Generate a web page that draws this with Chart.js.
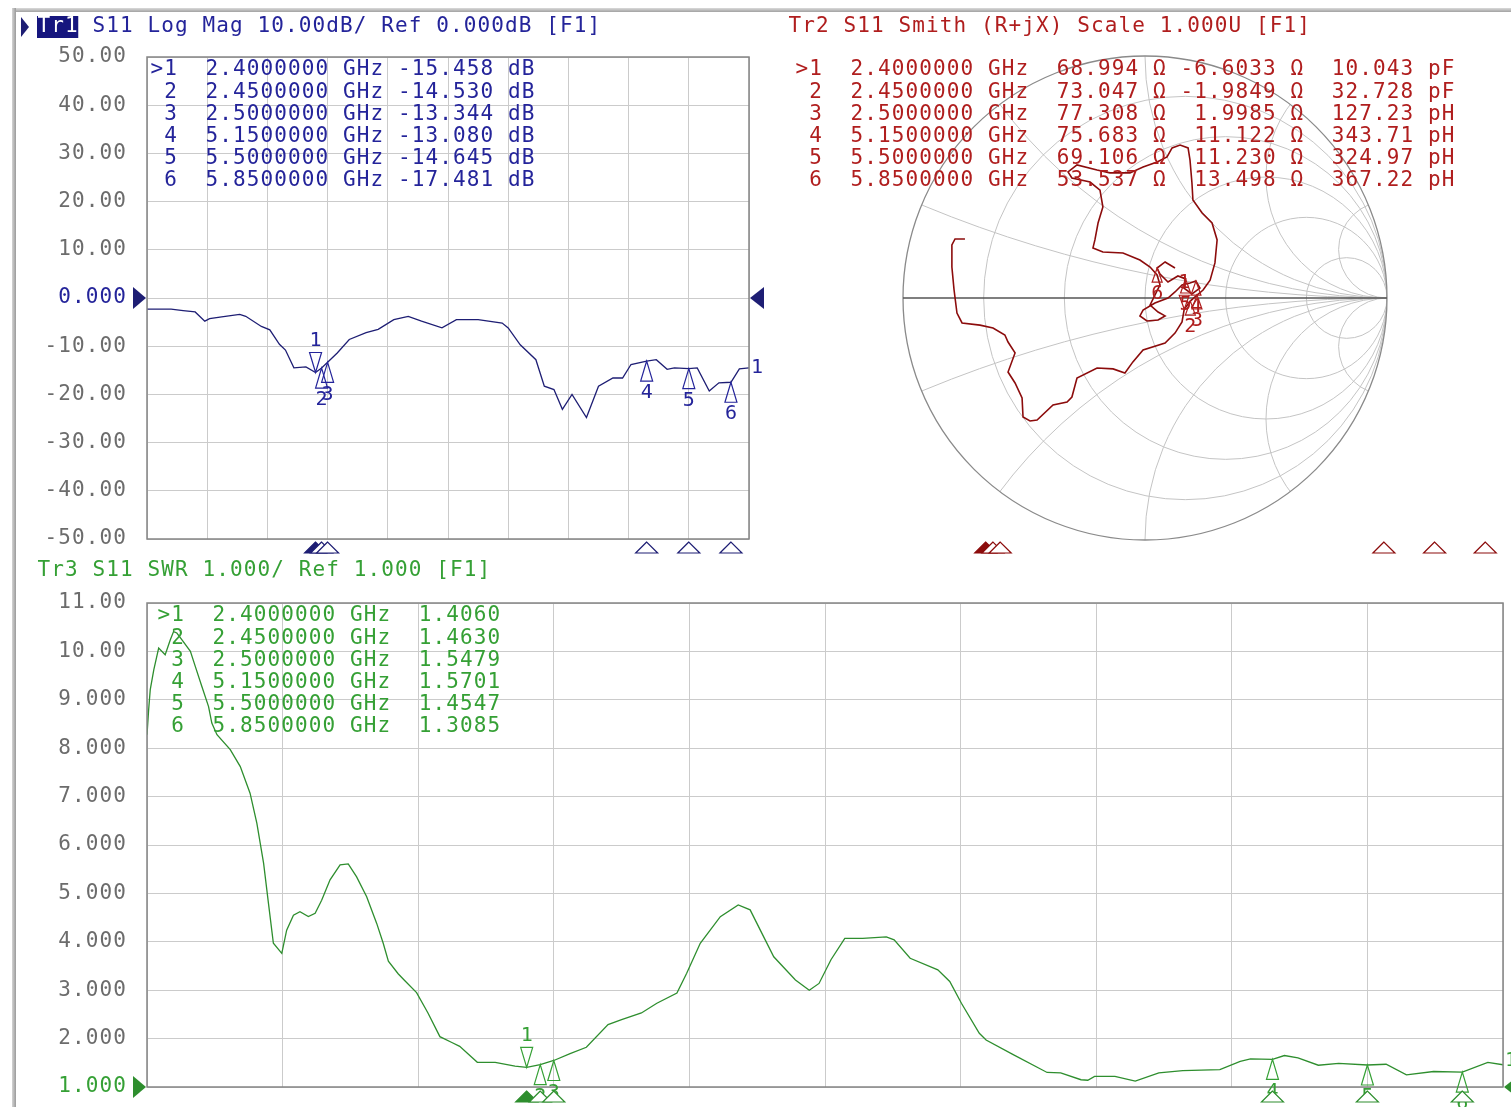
<!DOCTYPE html>
<html>
<head>
<meta charset="utf-8">
<title>S11</title>
<script src="https://cdn.jsdelivr.net/npm/chart.js@4.4.1/dist/chart.umd.min.js"></script>
<style>
  html, body { margin: 0; padding: 0; background: #fff; }
  body { width: 1511px; height: 1107px; position: relative; overflow: hidden; }
  .frame-top { position: absolute; left: 12px; right: 0; top: 8px; height: 4px; background: linear-gradient(#dadada, #a2a2a2); }
  .frame-left { position: absolute; left: 12px; top: 8px; bottom: 0; width: 4px; background: linear-gradient(90deg, #d4d4d4, #9a9a9a); }
  canvas { position: absolute; }
  #magChart { left: 0; top: 0; }
  #smithChart { left: 783px; top: 0; }
  #swrChart { left: 0; top: 555px; }
</style>
</head>
<body>
<div class="frame-top"></div>
<div class="frame-left"></div>
<canvas id="magChart" width="780" height="560"></canvas>
<canvas id="smithChart" width="724" height="560"></canvas>
<canvas id="swrChart" width="1511" height="552"></canvas>
<script>
// ---- data ----
const magTickLabels = ['50.00', '40.00', '30.00', '20.00', '10.00', '0.000', '-10.00', '-20.00', '-30.00', '-40.00', '-50.00'];
const swrTickLabels = ['11.00', '10.00', '9.000', '8.000', '7.000', '6.000', '5.000', '4.000', '3.000', '2.000', '1.000'];

// Tr1 log mag (GHz, dB)
const magFreq = [1.0, 1.2, 1.3, 1.4, 1.48, 1.52, 1.62, 1.77, 1.82, 1.95, 2.02, 2.1, 2.15, 2.22, 2.32, 2.4, 2.45, 2.5,
  2.58, 2.68, 2.82, 2.92, 3.05, 3.17, 3.28, 3.45, 3.57, 3.75, 3.95, 4.0, 4.1, 4.23, 4.3, 4.38, 4.45, 4.53, 4.65,
  4.75, 4.87, 4.95, 5.02, 5.15, 5.23, 5.32, 5.38, 5.5, 5.57, 5.67, 5.75, 5.85, 5.92, 6.0];
const magDb = [-2.3, -2.3, -2.6, -2.9, -4.8, -4.3, -3.9, -3.4, -3.8, -5.9, -6.6, -9.6, -10.8, -14.5, -14.3, -15.46, -14.53, -13.34,
  -11.4, -8.6, -7.2, -6.5, -4.5, -3.8, -4.8, -6.2, -4.5, -4.5, -5.2, -6.2, -9.7, -12.8, -18.3, -19.0, -23.1, -20.0, -24.8,
  -18.3, -16.6, -16.6, -13.8, -13.08, -12.8, -14.8, -14.5, -14.65, -14.5, -19.3, -17.6, -17.48, -14.7, -14.5];

// Tr3 SWR (GHz, ratio)
const swrFreq = [1.0, 1.006, 1.012, 1.025, 1.043, 1.067, 1.086, 1.098, 1.11, 1.129, 1.16, 1.178, 1.202, 1.227, 1.239, 1.258,
  1.307, 1.344, 1.38, 1.405, 1.43, 1.448, 1.466, 1.497, 1.515, 1.54, 1.564, 1.595, 1.62, 1.644, 1.675, 1.712, 1.742, 1.773,
  1.81, 1.847, 1.871, 1.89, 1.926, 1.95, 1.994, 2.036, 2.08, 2.124, 2.153, 2.218, 2.284, 2.357, 2.4, 2.45, 2.5, 2.56, 2.62,
  2.7, 2.75, 2.823, 2.88, 2.954, 2.99, 3.04, 3.114, 3.18, 3.224, 3.267, 3.311, 3.391, 3.442, 3.478, 3.522, 3.573, 3.639,
  3.726, 3.755, 3.814, 3.916, 3.96, 4.003, 4.069, 4.094, 4.194, 4.319, 4.369, 4.444, 4.469, 4.494, 4.569, 4.644, 4.731,
  4.819, 4.956, 5.031, 5.069, 5.15, 5.194, 5.244, 5.319, 5.394, 5.5, 5.569, 5.644, 5.744, 5.85, 5.944, 6.0];
const swrVal = [8.28, 8.79, 9.21, 9.62, 10.07, 9.93, 10.24, 10.41, 10.38, 10.24, 10.0, 9.69, 9.28, 8.86, 8.52, 8.28,
  7.97, 7.62, 7.07, 6.45, 5.62, 4.79, 3.97, 3.76, 4.24, 4.55, 4.62, 4.52, 4.59, 4.86, 5.28, 5.59, 5.61, 5.34,
  4.93, 4.38, 3.97, 3.6, 3.34, 3.2, 2.95, 2.53, 2.04, 1.92, 1.84, 1.51, 1.51, 1.43, 1.406, 1.463, 1.548, 1.69, 1.82,
  2.29, 2.39, 2.53, 2.73, 2.94, 3.35, 3.97, 4.52, 4.76, 4.66, 4.18, 3.69, 3.21, 3.0, 3.14, 3.63, 4.07, 4.07,
  4.1, 4.04, 3.66, 3.42, 3.18, 2.73, 2.11, 1.97, 1.67, 1.30, 1.29, 1.15, 1.14, 1.22, 1.22, 1.12, 1.29,
  1.34, 1.36, 1.53, 1.58, 1.570, 1.65, 1.60, 1.45, 1.49, 1.455, 1.47, 1.25, 1.32, 1.3085, 1.51, 1.46];

// Tr2 Smith trace, reflection coefficient (real, imag)
const smithRe = [-0.744, -0.785, -0.798, -0.798, -0.789, -0.777, -0.756, -0.682, -0.628, -0.579, -0.566, -0.537, -0.566,
  -0.537, -0.508, -0.504, -0.475, -0.446, -0.380, -0.322, -0.302, -0.281, -0.198, -0.132, -0.083, -0.050, -0.008, 0.083,
  0.124, 0.153, 0.162, 0.187, 0.215,
  0.240, 0.269, 0.289, 0.298, 0.277, 0.236, 0.198, 0.194, 0.186, 0.178, 0.145, 0.112, 0.091, 0.050, -0.008, -0.062,
  -0.145, -0.198, -0.281, -0.318, -0.302, -0.227, -0.186, -0.174, -0.194, -0.207, -0.215, -0.174, -0.091, -0.021, 0.021,
  0.050, 0.062,
  0.041, 0.021, 0.054, 0.083, 0.054, 0.008, -0.021, -0.008, 0.041, 0.095, 0.124,
  0.153, 0.186, 0.210, 0.227, 0.194, 0.161, 0.168, 0.136, 0.095, 0.062, 0.050, 0.083, 0.124];
const smithIm = [0.244, 0.244, 0.219, 0.128, 0.033, -0.062, -0.103, -0.112, -0.124, -0.153, -0.182, -0.227, -0.306,
  -0.351, -0.413, -0.492, -0.508, -0.504, -0.442, -0.430, -0.409, -0.331, -0.289, -0.293, -0.310, -0.264, -0.215, -0.186,
  -0.145, -0.099, -0.047, -0.013, 0.012,
  0.033, 0.074, 0.145, 0.240, 0.310, 0.351, 0.405, 0.475, 0.570, 0.620, 0.632, 0.620, 0.583, 0.562, 0.541, 0.517,
  0.517, 0.529, 0.550, 0.521, 0.496, 0.479, 0.446, 0.376, 0.310, 0.240, 0.207, 0.190, 0.186, 0.157, 0.128,
  0.095, 0.054,
  0.012, -0.029, -0.058, -0.074, -0.091, -0.095, -0.074, -0.050, -0.021, 0.000, 0.025,
  0.054, 0.062, 0.070, 0.041, 0.017, 0.041, 0.079, 0.091, 0.066, 0.099, 0.124, 0.149, 0.124];

// markers
const markerNames = ['>1', ' 2', ' 3', ' 4', ' 5', ' 6'];
const markerFreq = [2.4, 2.45, 2.5, 5.15, 5.5, 5.85];
const markerDb = [-15.458, -14.530, -13.344, -13.080, -14.645, -17.481];
const markerSwr = [1.4060, 1.4630, 1.5479, 1.5701, 1.4547, 1.3085];
const markerR = [68.994, 73.047, 77.308, 75.683, 69.106, 53.537];
const markerX = [-6.6033, -1.9849, 1.9985, 11.122, 11.230, 13.498];
const markerLC = ['10.043 pF', '32.728 pF', '127.23 pH', '343.71 pH', '324.97 pH', '367.22 pH'];

// smith grid values
const smithGridR = [0.2, 0.5, 1, 2, 5];
const smithGridX = [0.2, 0.5, 1, 2, 5];

// ---- look ----
const FONT = '"DejaVu Sans Mono", monospace';
const PITCH = 13.75;
const GRID = '#cbcbcb';
const GRAY = '#6c6c6c';
const NAVY = '#24249a';
const NAVY_TRACE = '#1e1e74';
const RED = '#b01e1e';
const RED_TRACE = '#8c0c0c';
const GREEN = '#35a035';
const GREEN_TRACE = '#2e8e2e';

function mono(ctx, str, x, y, color) {
    ctx.font = '21px ' + FONT;
    ctx.fillStyle = color;
    ctx.textAlign = 'center';
    ctx.textBaseline = 'middle';
    for (let i = 0; i < str.length; i++) {
        if (str[i] !== ' ') ctx.fillText(str[i], x + i * PITCH + PITCH / 2, y);
    }
}

function frameBox(ctx, a) {
    ctx.strokeStyle = '#858585';
    ctx.lineWidth = 1.5;
    ctx.strokeRect(a.left, a.top, a.right - a.left, a.bottom - a.top);
}

// marker on a trace: dir -1 = above the point (active), 1 = below
function traceMarker(ctx, px, py, dir, label, color, h, w) {
    ctx.beginPath();
    ctx.moveTo(px, py);
    ctx.lineTo(px - w, py + dir * h);
    ctx.lineTo(px + w, py + dir * h);
    ctx.closePath();
    ctx.strokeStyle = color;
    ctx.lineWidth = 1.2;
    ctx.stroke();
    ctx.font = '20px ' + FONT;
    ctx.fillStyle = color;
    ctx.textAlign = 'center';
    ctx.textBaseline = 'middle';
    ctx.fillText(label, px, py + dir * (h + 12));
}

function stimTriangle(ctx, px, top, color, filled) {
    ctx.beginPath();
    ctx.moveTo(px, top);
    ctx.lineTo(px - 11, top + 11);
    ctx.lineTo(px + 11, top + 11);
    ctx.closePath();
    ctx.fillStyle = filled ? color : '#fff';
    ctx.fill();
    ctx.strokeStyle = color;
    ctx.lineWidth = 1.2;
    ctx.stroke();
}

function refArrows(ctx, a, yPix, color) {
    ctx.fillStyle = color;
    ctx.beginPath();
    ctx.moveTo(a.left - 14, yPix - 11);
    ctx.lineTo(a.left - 1, yPix);
    ctx.lineTo(a.left - 14, yPix + 11);
    ctx.closePath();
    ctx.fill();
    ctx.beginPath();
    ctx.moveTo(a.right + 15, yPix - 11);
    ctx.lineTo(a.right + 1, yPix);
    ctx.lineTo(a.right + 15, yPix + 11);
    ctx.closePath();
    ctx.fill();
}

const spacing = {
    id: 'spacing',
    beforeDraw(chart) { chart.ctx.letterSpacing = '1.1px'; }
};

// y axis shared look: labels pushed 20px off the plot with an invisible tick mark
function yAxis(min, max, step, labels, refValue, refColor) {
    return {
        type: 'linear', min: min, max: max,
        ticks: {
            stepSize: step, autoSkip: false, padding: 0,
            font: { family: FONT, size: 21 },
            color: c => c.tick && c.tick.value === refValue ? refColor : GRAY,
            callback: v => labels[Math.round((max - v) / step)]
        },
        grid: { color: GRID, drawTicks: true, tickLength: 20, tickColor: 'rgba(0,0,0,0)' },
        border: { display: false },
        afterFit: s => { s.width = 147; }
    };
}

const xAxis = {
    type: 'linear', min: 1, max: 6,
    ticks: { display: false, stepSize: 0.5 },
    grid: { color: GRID, drawTicks: false },
    border: { display: false },
    afterFit: s => { s.height = 0; }
};

// ---- Tr1 Log Mag ----
const magDecor = {
    id: 'magDecor',
    afterDraw(chart) {
        const { ctx, chartArea: a, scales: { x, y } } = chart;
        ctx.save();
        ctx.letterSpacing = '0px';
        frameBox(ctx, a);

        // header
        ctx.fillStyle = NAVY_TRACE;
        ctx.beginPath();
        ctx.moveTo(21, 17); ctx.lineTo(29, 27); ctx.lineTo(21, 37); ctx.closePath();
        ctx.fill();
        ctx.fillStyle = '#16167e';
        ctx.fillRect(37, 16, 3 * PITCH, 22);
        mono(ctx, 'Tr1', 37, 27, '#fff');
        mono(ctx, ' S11 Log Mag 10.00dB/ Ref 0.000dB [F1]', 37 + 3 * PITCH, 27, NAVY);

        // marker table
        markerNames.forEach((n, i) => {
            const row = n + '  ' + markerFreq[i].toFixed(7) + ' GHz ' + markerDb[i].toFixed(3).padStart(7) + ' dB';
            mono(ctx, row, a.left + 3, a.top + 13 + i * 22.2, NAVY);
        });

        // markers on trace
        markerFreq.forEach((f, i) => {
            const px = x.getPixelForValue(f), py = y.getPixelForValue(markerDb[i]);
            traceMarker(ctx, px, py, i === 0 ? -1 : 1, String(i + 1), NAVY, 20, 6);
        });
        markerFreq.forEach((f, i) => stimTriangle(ctx, x.getPixelForValue(f), a.bottom + 3, NAVY_TRACE, i === 0));

        refArrows(ctx, a, y.getPixelForValue(0), NAVY_TRACE);
        ctx.font = '20px ' + FONT;
        ctx.fillStyle = NAVY;
        ctx.textAlign = 'center';
        ctx.fillText('1', a.right + 8, y.getPixelForValue(magDb[magDb.length - 1]));
        ctx.restore();
    }
};

new Chart(document.getElementById('magChart'), {
    type: 'line',
    data: {
        datasets: [{
            data: magFreq.map((f, i) => ({ x: f, y: magDb[i] })),
            borderColor: NAVY_TRACE,
            borderWidth: 1.3,
            pointRadius: 0,
            tension: 0
        }]
    },
    options: {
        responsive: false,
        animation: false,
        devicePixelRatio: 1,
        layout: { padding: { left: 0, top: 57, right: 31, bottom: 21 } },
        plugins: { legend: { display: false }, tooltip: { enabled: false } },
        scales: {
            x: xAxis,
            y: yAxis(-50, 50, 10, magTickLabels, 0, NAVY)
        }
    },
    plugins: [spacing, magDecor]
});

// ---- Tr2 Smith ----
function gammaOf(r, xv) {
    const a = r - 50, b = xv, c = r + 50, d = xv;
    const den = c * c + d * d;
    return { re: (a * c + b * d) / den, im: (b * c - a * d) / den };
}

const smithDecor = {
    id: 'smithDecor',
    beforeDatasetsDraw(chart) {
        const { ctx, scales: { x, y } } = chart;
        const cx = x.getPixelForValue(0), cy = y.getPixelForValue(0);
        const R = x.getPixelForValue(1) - cx;
        ctx.save();
        ctx.beginPath();
        ctx.arc(cx, cy, R, 0, 2 * Math.PI);
        ctx.clip();
        ctx.strokeStyle = '#c4c4c4';
        ctx.lineWidth = 1;
        smithGridR.forEach(r => {
            ctx.beginPath();
            ctx.arc(x.getPixelForValue(r / (1 + r)), cy, R / (1 + r), 0, 2 * Math.PI);
            ctx.stroke();
        });
        smithGridX.forEach(v => [v, -v].forEach(xv => {
            ctx.beginPath();
            ctx.arc(x.getPixelForValue(1), y.getPixelForValue(1 / xv), R / Math.abs(xv), 0, 2 * Math.PI);
            ctx.stroke();
        }));
        ctx.restore();
        ctx.save();
        ctx.strokeStyle = '#8a8a8a';
        ctx.lineWidth = 1.3;
        ctx.beginPath();
        ctx.arc(cx, cy, R, 0, 2 * Math.PI);
        ctx.stroke();
        ctx.strokeStyle = '#555';
        ctx.beginPath();
        ctx.moveTo(cx - R, cy);
        ctx.lineTo(cx + R, cy);
        ctx.stroke();
        ctx.restore();
    },
    afterDraw(chart) {
        const { ctx, scales: { x, y, f } } = chart;
        ctx.save();
        ctx.letterSpacing = '0px';
        mono(ctx, 'Tr2 S11 Smith (R+jX) Scale 1.000U [F1]', 5, 27, RED);
        markerNames.forEach((n, i) => {
            const xs = Math.abs(markerX[i]) >= 10 ? markerX[i].toFixed(3) : markerX[i].toFixed(4);
            const row = n + '  ' + markerFreq[i].toFixed(7) + ' GHz  ' + markerR[i].toFixed(3) + ' Ω ' +
                xs.padStart(7) + ' Ω  ' + markerLC[i];
            mono(ctx, row, 12, 70 + i * 22.2, RED);
        });
        markerR.forEach((r, i) => {
            const g = gammaOf(r, markerX[i]);
            traceMarker(ctx, x.getPixelForValue(g.re), y.getPixelForValue(g.im), i === 0 ? -1 : 1, String(i + 1), RED, 14, 5);
        });
        markerFreq.forEach((fr, i) => stimTriangle(ctx, f.getPixelForValue(fr), 542, RED_TRACE, i === 0));
        ctx.restore();
    }
};

new Chart(document.getElementById('smithChart'), {
    type: 'scatter',
    data: {
        datasets: [{
            data: smithRe.map((r, i) => ({ x: r, y: smithIm[i] })),
            showLine: true,
            borderColor: RED_TRACE,
            borderWidth: 1.6,
            pointRadius: 0
        }]
    },
    options: {
        responsive: false,
        animation: false,
        devicePixelRatio: 1,
        layout: { padding: { left: 0, right: 0, top: 56, bottom: 20 } },
        plugins: { legend: { display: false }, tooltip: { enabled: false } },
        scales: {
            x: { type: 'linear', min: -1.4959, max: 1.4959, display: false },
            y: { type: 'linear', min: -1, max: 1, display: false },
            f: { type: 'linear', axis: 'x', position: 'bottom', min: 1, max: 6, display: false }
        }
    },
    plugins: [smithDecor]
});

// ---- Tr3 SWR ----
const swrDecor = {
    id: 'swrDecor',
    afterDraw(chart) {
        const { ctx, chartArea: a, scales: { x, y } } = chart;
        ctx.save();
        ctx.letterSpacing = '0px';
        frameBox(ctx, a);
        mono(ctx, 'Tr3 S11 SWR 1.000/ Ref 1.000 [F1]', 37, 16, GREEN);
        markerNames.forEach((n, i) => {
            const row = n + '  ' + markerFreq[i].toFixed(7) + ' GHz  ' + markerSwr[i].toFixed(4);
            mono(ctx, row, a.left + 10, a.top + 13 + i * 22.2, GREEN);
        });
        markerFreq.forEach((f, i) => {
            traceMarker(ctx, x.getPixelForValue(f), y.getPixelForValue(markerSwr[i]), i === 0 ? -1 : 1, String(i + 1), GREEN, 20, 6);
        });
        markerFreq.forEach((f, i) => stimTriangle(ctx, x.getPixelForValue(f), a.bottom + 4, GREEN_TRACE, i === 0));
        refArrows(ctx, a, y.getPixelForValue(1), GREEN_TRACE);
        ctx.font = '20px ' + FONT;
        ctx.fillStyle = GREEN;
        ctx.textAlign = 'center';
        ctx.fillText('1', a.right + 8, y.getPixelForValue(swrVal[swrVal.length - 1]) - 4);
        ctx.restore();
    }
};

new Chart(document.getElementById('swrChart'), {
    type: 'line',
    data: {
        datasets: [{
            data: swrFreq.map((f, i) => ({ x: f, y: swrVal[i] })),
            borderColor: GREEN_TRACE,
            borderWidth: 1.3,
            pointRadius: 0,
            tension: 0
        }]
    },
    options: {
        responsive: false,
        animation: false,
        devicePixelRatio: 1,
        layout: { padding: { left: 0, top: 48, right: 8, bottom: 20 } },
        plugins: { legend: { display: false }, tooltip: { enabled: false } },
        scales: {
            x: xAxis,
            y: yAxis(1, 11, 1, swrTickLabels, 1, GREEN)
        }
    },
    plugins: [spacing, swrDecor]
});
</script>
</body>
</html>
